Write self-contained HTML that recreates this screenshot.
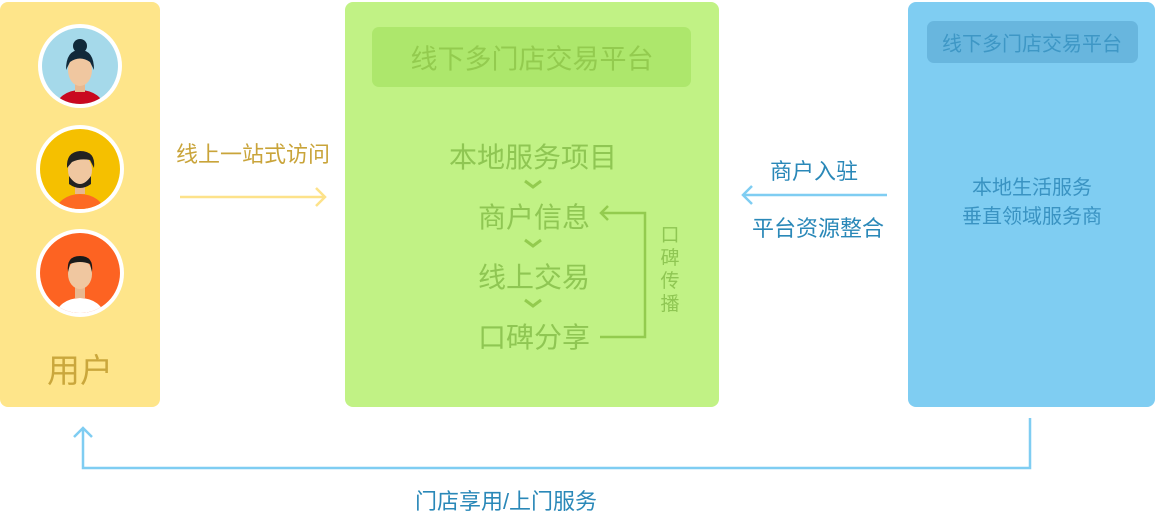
<!DOCTYPE html>
<html><head><meta charset="utf-8"><style>
body{margin:0;width:1155px;height:511px;background:#fff;position:relative;overflow:hidden;font-family:"Liberation Sans","Noto Sans CJK SC",sans-serif}
.a{position:absolute}
.t{position:absolute;white-space:nowrap;transform:translate(-50%,-50%)}
</style></head><body>
<div class="a" style="left:0;top:2px;width:160px;height:405px;background:#fee58a;border-radius:8px"></div>
<div class="a" style="left:345px;top:2px;width:374px;height:405px;background:#c1f285;border-radius:8px"></div>
<div class="a" style="left:372px;top:27px;width:319px;height:60px;background:#ade76c;border-radius:7px"></div>
<div class="a" style="left:908px;top:2px;width:247px;height:405px;background:#7fcdf2;border-radius:8px"></div>
<div class="a" style="left:927px;top:21px;width:211px;height:42px;background:#68b6de;border-radius:7px"></div>

<svg class="a" style="left:0;top:0" width="1155" height="511">
<defs><clipPath id="c1"><circle cx="80" cy="66" r="38"/></clipPath><clipPath id="c2"><circle cx="80" cy="169" r="40"/></clipPath><clipPath id="c3"><circle cx="80" cy="273" r="40"/></clipPath></defs>
<circle cx="80" cy="66" r="42" fill="#fff"/><circle cx="80" cy="66" r="38" fill="#a5d9ea"/>
<g clip-path="url(#c1)"><ellipse cx="80" cy="108" rx="24" ry="18" fill="#c9081f"/><rect x="75" y="78" width="10" height="14" fill="#e8b890"/><ellipse cx="80" cy="70" rx="12" ry="16" fill="#f0c7a0"/><path d="M66 70 Q66 50 80 50 Q94 50 94 70 L90 62 Q80 55 70 62Z" fill="#10293a"/><circle cx="80" cy="46" r="7" fill="#10293a"/></g>
<circle cx="80" cy="169" r="44" fill="#fff"/><circle cx="80" cy="169" r="40" fill="#f5c000"/>
<g clip-path="url(#c2)"><ellipse cx="80" cy="212" rx="24" ry="18" fill="#fd6a22"/><rect x="75" y="180" width="10" height="14" fill="#e8b890"/><ellipse cx="80" cy="170" rx="12" ry="15" fill="#f0c7a0"/><path d="M69 176 Q80 192 91 176 L91 184 Q80 192 69 184Z" fill="#222"/><path d="M67 168 Q66 152 80 151 Q96 151 94 168 L90 160 Q80 158 72 162Z" fill="#222"/></g>
<circle cx="80" cy="273" r="44" fill="#fff"/><circle cx="80" cy="273" r="40" fill="#fd6322"/>
<g clip-path="url(#c3)"><ellipse cx="80" cy="316" rx="24" ry="18" fill="#fff"/><rect x="75" y="284" width="10" height="14" fill="#e8b890"/><ellipse cx="80" cy="274" rx="12" ry="15" fill="#f0c7a0"/><path d="M68 272 Q66 256 80 256 Q94 256 92 272 L90 264 Q80 260 70 264Z" fill="#1a1a1a"/></g>
<line x1="180" y1="197" x2="325" y2="197" stroke="#fde28a" stroke-width="2.5"/>
<polyline points="316,188 325,197 316,206" fill="none" stroke="#fde28a" stroke-width="2.5"/>
<g fill="none" stroke="#93cb4f" stroke-width="3">
<polyline points="525,181 533,187 541,181"/><polyline points="525,240 533,246 541,240"/><polyline points="525,300 533,306 541,300"/>
<polyline points="600,337 645,337 645,213 601,213" stroke-width="2.5"/><polyline points="608,206 601,213 608,220" stroke-width="2.5"/>
</g>
<g fill="none" stroke="#7fcdf2" stroke-width="2.5">
<line x1="743" y1="195" x2="887" y2="195"/><polyline points="752,186 743,195 752,204"/>
<polyline points="1030,418 1030,468 83,468 83,428"/><polyline points="74,437 83,428 92,437"/>
</g>
</svg>

<div class="t" style="left:80px;top:368px;font-size:33px;color:#caa73c">用户</div>
<div class="t" style="left:253px;top:153px;font-size:22px;color:#c9a43a">线上一站式访问</div>
<div class="t" style="left:532px;top:57px;font-size:27px;color:#93cb4f">线下多门店交易平台</div>
<div class="t" style="left:533px;top:156px;font-size:28px;color:#8fc653">本地服务项目</div>
<div class="t" style="left:534px;top:216px;font-size:28px;color:#8fc653">商户信息</div>
<div class="t" style="left:534px;top:276px;font-size:28px;color:#8fc653">线上交易</div>
<div class="t" style="left:534px;top:336px;font-size:28px;color:#8fc653">口碑分享</div>
<div class="t" style="left:670px;top:270px;font-size:19px;line-height:23px;width:20px;white-space:normal;text-align:center;color:#8fc653">口碑传播</div>
<div class="t" style="left:814px;top:170px;font-size:22px;color:#2a88b8">商户入驻</div>
<div class="t" style="left:818px;top:227px;font-size:22px;color:#2a88b8">平台资源整合</div>
<div class="t" style="left:1032px;top:42px;font-size:20px;color:#3e97c5">线下多门店交易平台</div>
<div class="t" style="left:1032px;top:203px;font-size:20px;line-height:29px;text-align:center;color:#3a93c2">本地生活服务<br>垂直领域服务商</div>
<div class="t" style="left:506px;top:500px;font-size:22px;color:#2a88b8">门店享用/上门服务</div>
</body></html>
